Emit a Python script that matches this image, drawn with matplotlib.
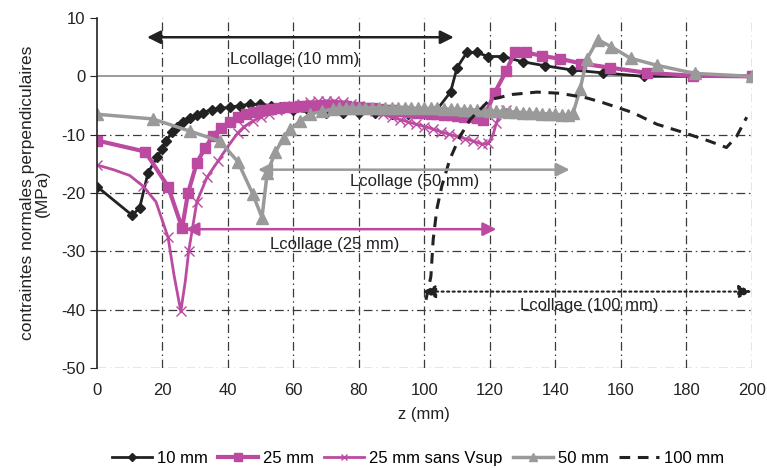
import matplotlib
matplotlib.use("Agg")
import matplotlib.pyplot as plt

plt.rcParams['font.family'] = ['Liberation Sans', 'DejaVu Sans']
plt.rcParams['axes.unicode_minus'] = False

# 10 mm
z_10 = [0, 10.7, 13, 15.6, 18.3, 19.8, 21, 23, 24.4, 26.3, 28.4, 30.5, 32.4, 35, 37.6,
        40.6, 43.7, 46.7, 49.8, 53, 56, 60, 65, 70, 75, 80, 85, 90, 95, 100, 104,
        108, 110, 113, 116, 119.5, 124, 130, 137, 145, 154.5, 167, 200]
s_10 = [-18.9, -23.8, -22.6, -16.5, -13.9, -12.5, -11.1, -9.6, -8.6, -7.9, -7.2, -6.7, -6.2, -5.7, -5.5,
        -5.3, -5.0, -4.8, -4.8, -5.0, -5.3, -5.8, -6.1, -6.2, -6.3, -6.3, -6.3, -6.4, -6.4, -6.2, -5.6,
        -2.7, 1.5, 4.1, 4.1, 3.4, 3.4, 2.5, 1.8, 1.1, 0.6, 0.0, 0.0]

# 25 mm
z_25 = [0, 14.7, 21.7, 26, 27.8, 30.5, 33, 35.4, 38, 40.6, 43, 45.5, 48, 50.5, 53, 55.5, 58,
        60, 62, 64, 66, 68, 70, 72, 74, 76, 78, 80, 82, 84, 86, 88, 90, 92, 94, 96, 98,
        100, 102, 104, 106, 108, 110, 112, 114, 116, 118,
        121.5, 125, 127.6, 131, 136, 141.5, 148, 156.6, 168, 182, 200]
s_25 = [-11.0, -12.9, -18.9, -26.0, -20.0, -14.8, -12.3, -10.2, -8.8, -7.8, -7.0, -6.5, -6.1, -5.8, -5.6, -5.4, -5.3,
        -5.2, -5.1, -5.0, -5.0, -5.0, -5.0, -5.0, -5.1, -5.1, -5.2, -5.3, -5.4, -5.5, -5.6, -5.7, -5.8, -5.9, -6.0, -6.1, -6.2,
        -6.3, -6.4, -6.5, -6.6, -6.7, -6.8, -6.9, -7.0, -7.2, -7.4,
        -2.8, 0.9, 4.1, 4.1, 3.5, 3.0, 2.2, 1.5, 0.6, 0.1, 0.0]

# 25 mm sans Vsup
z_sv = [0, 5, 10, 14, 18, 21.7, 23.5, 25.6, 27, 28, 30.5, 33.6, 37, 40,
        43, 45, 47.5, 50, 52.5, 55, 57.5, 60, 62.5, 65, 67.5, 70, 72.5, 75, 77.5, 80,
        82.5, 85, 87.5, 90, 92.5, 95, 97.5, 100, 102.5, 105, 107.5, 110, 112.5, 115, 117.5,
        119.5, 121, 122, 123.5, 125]
s_sv = [-15.2, -16.0, -17.0, -18.8, -21.5, -27.6, -34.0, -40.3, -35.0, -30.0, -21.5, -17.3, -14.5, -12.0,
        -9.7, -8.6, -7.7, -7.0, -6.4, -5.8, -5.3, -5.0, -4.7, -4.4, -4.3, -4.2, -4.2, -4.4, -4.7, -5.0,
        -5.5, -6.0, -6.5, -7.0, -7.4, -7.8, -8.2, -8.6, -9.0, -9.5, -9.9, -10.3, -10.7, -11.1, -11.6,
        -11.5, -10.0, -8.0, -6.2, -5.8]
sv_unmarked = [5, 10, 18, 23.5, 27, 40, 121]

# 50 mm
z_50 = [0, 17, 28.4, 37.5, 43, 47.6, 50.4, 52, 54.5, 57, 59, 62, 65, 68.7,
        72, 74, 76, 78, 80, 82, 84, 86, 88, 90, 92, 94, 96, 98, 100, 102, 104, 106, 108,
        110, 112, 114, 116, 118, 120, 122, 124, 126, 128, 130, 132, 134, 136, 138, 140, 142, 144,
        145.5, 147.6, 149.6, 153, 157, 163, 171, 182.6, 200]
s_50 = [-6.5, -7.3, -9.4, -11.1, -14.6, -20.2, -24.2, -16.5, -13.0, -10.5, -9.1, -7.7, -6.5, -6.0,
        -5.6, -5.5, -5.4, -5.4, -5.4, -5.4, -5.4, -5.4, -5.4, -5.4, -5.4, -5.4, -5.5, -5.5, -5.5, -5.5, -5.5, -5.6, -5.6,
        -5.6, -5.7, -5.7, -5.8, -5.8, -5.9, -6.0, -6.0, -6.1, -6.1, -6.2, -6.3, -6.3, -6.4, -6.4, -6.5, -6.6, -6.7,
        -6.2, -2.2, 2.9, 6.3, 5.1, 3.1, 1.9, 0.5, 0.0]

# 100 mm
z_100 = [100.5, 102, 102.7, 103.8, 105.3, 107.8, 110.8, 114, 120, 127, 134.4, 141.4, 149.6,
         154.5, 163.6, 171, 179, 187, 192.3, 195.4, 198.5]
s_100 = [-38.3, -34.3, -28.0, -22.8, -18.9, -14.2, -10.4, -7.4, -4.0, -3.1, -2.7, -2.9, -3.7,
         -4.5, -6.2, -8.2, -9.6, -11.1, -12.2, -10.3, -7.0]

# Lcollage spans: (start, end, level, label, text x, text y)
spans = [(15.3, 109, 6.7, "Lcollage (10 mm)", 60.5, 2.9),
         (49.2, 144.4, -16, "Lcollage (50 mm)", 97, -18),
         (27, 122, -26.2, "Lcollage (25 mm)", 72.7, -28.8),
         (99.5, 200, -36.9, "Lcollage (100 mm)", 150.5, -39.3)]

black = '#222222'
magenta = '#bb4aa0'
gray = '#9a9a9a'

fig = plt.figure(figsize=(7.67, 4.70), dpi=100)
ax = fig.add_axes([0.1265, 0.217, 0.8535, 0.7447])

ax.set_xlim(0, 200)
ax.set_ylim(-50, 10)

gridstyle = dict(color='#3a3a3a', lw=0.9, linestyle=(0, (7, 3, 1.2, 3)), zorder=0)
for xv in range(20, 201, 20):
    ax.axvline(xv, **gridstyle)
for yv in range(-50, 0, 10):
    ax.axhline(yv, **gridstyle)
ax.axhline(0, color='#8a8a8a', lw=1.2, zorder=0)

ax.plot(z_10, s_10, color=black, lw=2, marker='D', ms=5.5, label='10 mm')
ax.plot(z_25, s_25, color=magenta, lw=3, marker='s', ms=7.5, label='25 mm')
sv_marks = [i for i, z in enumerate(z_sv) if z not in sv_unmarked]
ax.plot(z_sv, s_sv, color=magenta, lw=2, marker='x', ms=7, mew=1,
        markevery=sv_marks, label='25 mm sans Vsup')
ax.plot(z_50, s_50, color=gray, lw=2.5, marker='^', ms=8, label='50 mm')
ax.plot(z_100, s_100, color=black, lw=2.2, linestyle=(0, (3.5, 2.5)), label='100 mm')

span_colors = [black, gray, magenta, black]
span_styles = ['-', '-', '-', ':']
for (a, b, lvl, txt, tx, ty), c, st in zip(spans, span_colors, span_styles):
    ax.annotate('', xy=(b, lvl), xytext=(a, lvl),
                arrowprops=dict(arrowstyle='<|-|>', color=c, lw=1.8 if st == '-' else 1.5,
                                linestyle=st, shrinkA=0, shrinkB=0, mutation_scale=20))
    ax.text(tx, ty, txt, ha='center', va='center', fontsize=12, color='#222222')

for s in ['top', 'right', 'bottom']:
    ax.spines[s].set_visible(False)
ax.spines['left'].set_color('#222222')
ax.spines['left'].set_linewidth(1.2)

ax.set_xticks(range(0, 201, 20))
ax.set_yticks(range(-50, 11, 10))
ax.tick_params(axis='x', length=0, labelsize=12, pad=11, colors='#222222')
ax.tick_params(axis='y', length=5, labelsize=12, colors='#222222')

ax.set_xlabel('z (mm)', fontsize=12, color='#222222', labelpad=6)
ax.set_ylabel('contraintes normales perpendiculaires\n(MPa)', fontsize=12.5,
              color='#222222', labelpad=8, linespacing=1.0)

fig.legend(loc='center', bbox_to_anchor=(0.545, 0.025), ncol=5, frameon=False,
           fontsize=12, handlelength=2.4, handletextpad=0.3, columnspacing=0.6,
           markerscale=0.7)

fig.savefig('out.png', dpi=100)
